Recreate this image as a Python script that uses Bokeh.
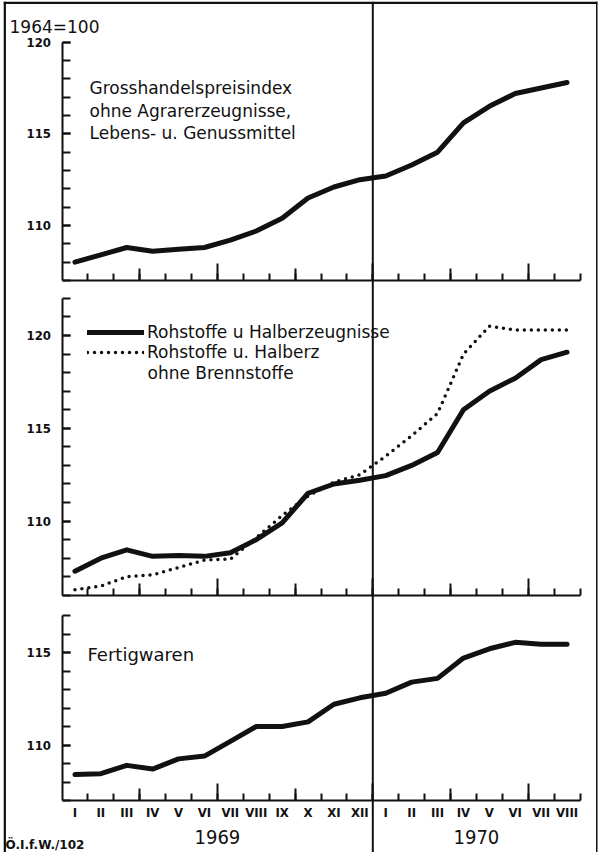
from bokeh.plotting import figure
from bokeh.models import (Range1d, LinearAxis, FixedTicker, SingleIntervalTicker,
                          Span, Label, Legend, LegendItem)
from bokeh.embed import file_html
from bokeh.resources import INLINE

# ---------------- data ----------------
months = ["I", "II", "III", "IV", "V", "VI", "VII", "VIII", "IX", "X", "XI", "XII",
          "I", "II", "III", "IV", "V", "VI", "VII", "VIII"]
years = [1969] * 12 + [1970] * 8
grosshandel = [108.0, 108.4, 108.8, 108.6, 108.7, 108.8, 109.2, 109.7, 110.4, 111.5,
               112.1, 112.5, 112.7, 113.3, 114.0, 115.6, 116.5, 117.2, 117.5, 117.8]
rohstoffe = [107.3, 108.0, 108.45, 108.1, 108.15, 108.1, 108.3, 109.0, 109.9, 111.5,
             112.0, 112.2, 112.45, 113.0, 113.7, 116.0, 117.0, 117.7, 118.7, 119.1]
rohstoffe_ohne_brennst = [106.3, 106.5, 107.0, 107.1, 107.5, 107.9, 107.95, 109.1, 110.3, 111.35,
                          112.1, 112.5, 113.5, 114.6, 115.8, 119.0, 120.5, 120.3, 120.3, 120.3]
fertigwaren = [108.4, 108.45, 108.9, 108.7, 109.25, 109.4, 110.2, 111.0, 111.0, 111.25,
               112.2, 112.55, 112.8, 113.4, 113.6, 114.7, 115.2, 115.55, 115.45, 115.45]
panel_bounds = {"default": (107, 120), "p2": (106, 122), "p3": (107, 117)}

month_idx = list(range(len(months)))
boundaries = [i + 0.5 for i in month_idx]
quarter_b = [i + 0.5 for i in month_idx if (i + 1) % 3 == 0 and (i + 1) % 6 != 0]
half_b = [i + 0.5 for i in month_idx if (i + 1) % 6 == 0]
year_list = sorted(set(years))
year_centers = [sum(i for i, y in zip(month_idx, years) if y == yr) / years.count(yr) for yr in year_list]
divider = boundaries[years.count(1969) - 1]

# ---------------- layout geometry (page pixels) ----------------
FL, FR, FT, FB = 11, 605, 9, 860
X0, PPM = 69.5, 25.9          # page x of x=-0.5, px per month
PANELS = {"default": (110, 233, 18.33), "p2": (120, 343, 18.56), "p3": (107, 808, 18.5)}


def dx(px):
    return -0.5 + (px - X0) / PPM


def dy(name, py):
    v, y, k = PANELS[name]
    return v + (y - py) / k


def yrange(name):
    return Range1d(dy(name, FB), dy(name, FT))


FONT = "DejaVu Sans"
NUMFONT = "DejaVu Sans Condensed"
INK = "#111111"

p = figure(width=600, height=852, output_backend="svg", toolbar_location=None,
           x_range=Range1d(dx(FL), dx(FR)), y_range=yrange("default"),
           x_axis_location=None, y_axis_location=None,
           min_border_left=3, min_border_right=3, min_border_top=1, min_border_bottom=0,
           outline_line_color=None, background_fill_color="white", border_fill_color="white")
p.extra_y_ranges = {"p2": yrange("p2"), "p3": yrange("p3")}
p.grid.visible = False

# ---------------- axes ----------------
for name, (lo, hi) in panel_bounds.items():
    ya = LinearAxis(y_range_name=name, bounds=(lo, hi), fixed_location=-0.5,
                    ticker=SingleIntervalTicker(interval=5, num_minor_ticks=5),
                    major_tick_in=8, major_tick_out=0, minor_tick_in=8, minor_tick_out=0,
                    axis_line_width=2, major_tick_line_width=2, minor_tick_line_width=2,
                    axis_line_color=INK, major_tick_line_color=INK, minor_tick_line_color=INK,
                    major_label_text_font=NUMFONT, major_label_text_font_style="bold",
                    major_label_text_font_size="13px", major_label_text_color=INK,
                    major_label_standoff=11)
    p.add_layout(ya, "left")
    xa = LinearAxis(y_range_name=name, bounds=(-0.5, 19.5), fixed_location=lo,
                    ticker=FixedTicker(ticks=quarter_b, minor_ticks=boundaries),
                    major_tick_in=12, major_tick_out=0, minor_tick_in=7, minor_tick_out=0,
                    axis_line_width=2, major_tick_line_width=2, minor_tick_line_width=2,
                    axis_line_color=INK, major_tick_line_color=INK, minor_tick_line_color=INK,
                    major_label_text_color=None, major_label_text_font_size="1px")
    p.add_layout(xa, "below")
    xh = LinearAxis(y_range_name=name, fixed_location=lo,
                    ticker=FixedTicker(ticks=half_b),
                    major_tick_in=17, major_tick_out=0, major_tick_line_width=2,
                    major_tick_line_color=INK, axis_line_color=None,
                    minor_tick_line_color=None,
                    major_label_text_color=None, major_label_text_font_size="1px")
    p.add_layout(xh, "below")

month_axis = LinearAxis(y_range_name="p3", fixed_location=panel_bounds["p3"][0],
                        ticker=FixedTicker(ticks=month_idx),
                        major_label_overrides={i: m for i, m in zip(month_idx, months)},
                        axis_line_color=None, major_tick_line_color=None, minor_tick_line_color=None,
                        major_tick_in=0, major_tick_out=0,
                        major_label_text_font=NUMFONT, major_label_text_font_style="bold",
                        major_label_text_font_size="13px", major_label_text_color=INK,
                        major_label_standoff=4)
p.add_layout(month_axis, "below")
year_axis = LinearAxis(y_range_name="p3", fixed_location=panel_bounds["p3"][0],
                       ticker=FixedTicker(ticks=year_centers),
                       major_label_overrides={c: str(y) for c, y in zip(year_centers, year_list)},
                       axis_line_color=None, major_tick_line_color=None, minor_tick_line_color=None,
                       major_tick_in=0, major_tick_out=0,
                       major_label_text_font=NUMFONT, major_label_text_font_size="20px",
                       major_label_text_color=INK, major_label_standoff=29)
p.add_layout(year_axis, "below")

# ---------------- frame lines ----------------
p.add_layout(Span(location=divider, dimension="height", line_color=INK, line_width=2))
p.add_layout(Span(location=dx(12.2), dimension="height", line_color=INK, line_width=2.5))
p.add_layout(Span(location=dx(604.5), dimension="height", line_color=INK, line_width=2))
p.add_layout(Span(location=dy("default", 10.3), dimension="width", line_color=INK, line_width=2.5))

# ---------------- series ----------------
r1 = p.line(month_idx, grosshandel, line_width=5, line_color=INK, line_join="round", line_cap="round")
r2 = p.line(month_idx, rohstoffe, y_range_name="p2", line_width=5, line_color=INK,
            line_join="round", line_cap="round")
r2d = p.line(month_idx, rohstoffe_ohne_brennst, y_range_name="p2", line_width=3.5, line_color=INK,
             line_dash="0 7", line_cap="round")
r3 = p.line(month_idx, fertigwaren, y_range_name="p3", line_width=5, line_color=INK,
            line_join="round", line_cap="round")

# ---------------- texts ----------------
def label(text, px, py, panel, size, style="normal", font=FONT):
    p.add_layout(Label(x=dx(px), y=dy(panel, py), y_range_name=panel, text=text,
                       text_font=font, text_font_size=size, text_font_style=style,
                       text_color=INK, text_baseline="alphabetic", text_align="left"))


label("1964=100", 17, 34, "default", "17px")
label("Grosshandelspreisindex", 97, 95, "default", "17px")
label("ohne Agrarerzeugnisse,", 97, 118, "default", "17px")
label("Lebens- u. Genussmittel", 97, 140, "default", "17px")
label("ohne Brennstoffe", 155, 380, "p2", "17px")
label("Fertigwaren", 95, 662, "p3", "18px")
label("Ö.I.f.W./102", 13, 852, "p3", "12px", "bold")

legend = Legend(items=[LegendItem(label="Rohstoffe u Halberzeugnisse", renderers=[r2]),
                       LegendItem(label="Rohstoffe u. Halberz", renderers=[r2d])],
                location=(84, (FB - FT) - (370 - FT)), orientation="vertical",
                padding=0, margin=0, spacing=0, glyph_width=57, glyph_height=20,
                label_height=20, label_standoff=3, border_line_color=None,
                background_fill_alpha=0, label_text_font=FONT, label_text_font_size="17px",
                label_text_color=INK)
p.add_layout(legend)

open("out.html", "w").write(file_html(p, INLINE))
